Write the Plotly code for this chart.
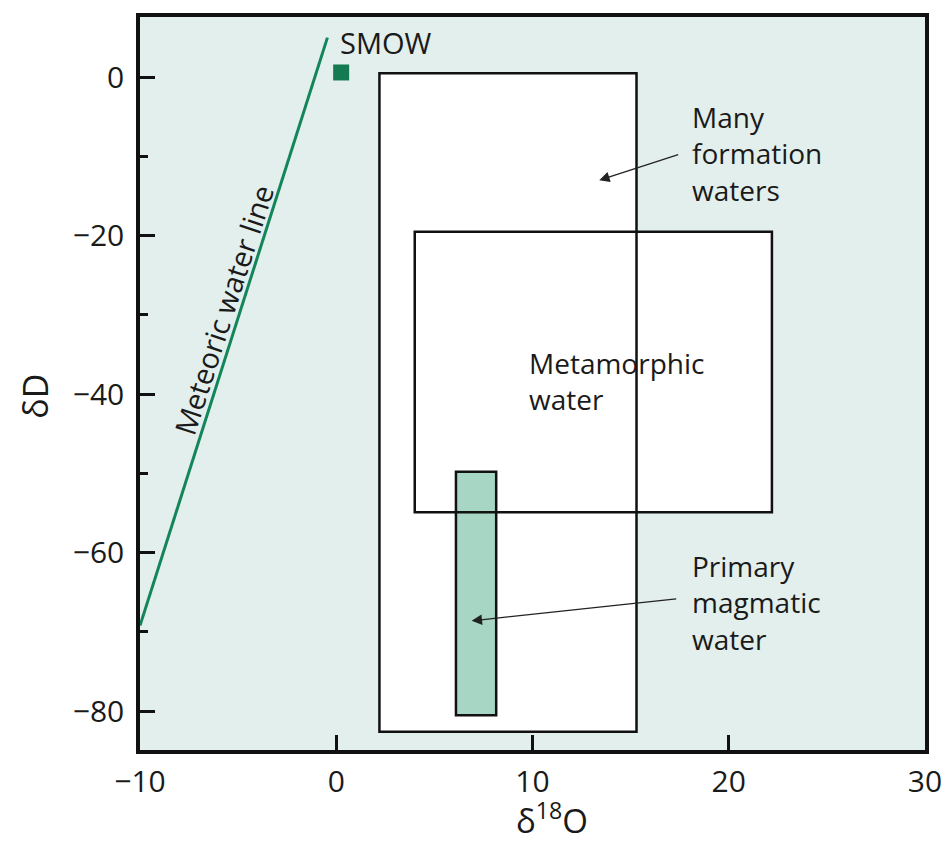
import plotly.graph_objects as go

# meteoric water line end points (d18O, dD)
mwl_x = [-10.0, -0.45]
mwl_y = [-69.2, 5.0]

# standard mean ocean water
smow_x = [0.25]
smow_y = [0.6]

# field boxes: [x0, x1], [y0, y1]
formation_x = [2.2, 15.3]
formation_y = [-82.6, 0.5]
metamorphic_x = [4.0, 22.2]
metamorphic_y = [-54.9, -19.5]
magmatic_x = [6.1, 8.15]
magmatic_y = [-80.5, -49.8]

FONT = "Open Sans, Lato, sans-serif"
BG = "#e3efec"
GREEN = "#13855b"
INK = "#1a1a1a"

fig = go.Figure()

fig.add_trace(go.Scatter(x=mwl_x, y=mwl_y, mode="lines",
                         line=dict(color=GREEN, width=3), hoverinfo="skip"))
fig.add_trace(go.Scatter(x=smow_x, y=smow_y, mode="markers",
                         marker=dict(symbol="square", size=16, color="#137a52"),
                         hoverinfo="skip"))

# white fills first, then outlines so overlapping edges stay visible
for bx, by in [(formation_x, formation_y), (metamorphic_x, metamorphic_y)]:
    fig.add_shape(type="rect", x0=bx[0], x1=bx[1], y0=by[0], y1=by[1],
                  fillcolor="white", line_width=0, layer="below")
fig.add_shape(type="rect", x0=magmatic_x[0], x1=magmatic_x[1],
              y0=magmatic_y[0], y1=magmatic_y[1],
              fillcolor="#a7d6c5", line_width=0, layer="below")
for bx, by in [(formation_x, formation_y), (metamorphic_x, metamorphic_y),
               (magmatic_x, magmatic_y)]:
    fig.add_shape(type="rect", x0=bx[0], x1=bx[1], y0=by[0], y1=by[1],
                  line=dict(color="#111", width=2.5))

txt = dict(family=FONT, size=28, color=INK)
fig.add_annotation(x=0.1, y=4.4, text="SMOW", showarrow=False, xanchor="left",
                   font=dict(family=FONT, size=29, color=INK))
fig.add_annotation(x=18.0, y=-9.6, text="Many<br>formation<br>waters", showarrow=False,
                   xanchor="left", align="left", font=txt)
fig.add_annotation(x=9.7, y=-38.3, text="Metamorphic<br>water", showarrow=False,
                   xanchor="left", align="left", font=txt)
fig.add_annotation(x=18.0, y=-66.3, text="Primary<br>magmatic<br>water", showarrow=False,
                   xanchor="left", align="left", font=txt)
fig.add_annotation(x=-5.75, y=-29.3, text="Meteoric water line", showarrow=False,
                   textangle=-72, font=dict(family=FONT, size=29, color=INK))

# arrows
arr = dict(showarrow=True, text="", axref="x", ayref="y", arrowhead=2,
           arrowsize=1.6, arrowwidth=1.3, arrowcolor="#222")
fig.add_annotation(x=13.4, y=-13.0, ax=17.5, ay=-9.7, **arr)
fig.add_annotation(x=6.9, y=-68.6, ax=17.4, ay=-65.8, **arr)

# axis titles
fig.add_annotation(xref="paper", yref="paper", x=-0.134, y=0.483, text="δD",
                   textangle=-90, showarrow=False, xanchor="center", yanchor="middle",
                   font=dict(family=FONT, size=34, color=INK))
fig.add_annotation(xref="paper", yref="paper", x=0.525, y=-0.094,
                   text="δ<sup>18</sup>O", showarrow=False,
                   xanchor="center", yanchor="middle",
                   font=dict(family=FONT, size=33, color=INK))

fig.update_xaxes(range=[-10, 30], dtick=10, tick0=0, ticks="inside", ticklen=15,
                 tickwidth=2.5, tickcolor="#111", showline=True, linewidth=3.5,
                 linecolor="#111", mirror=True, showgrid=False, zeroline=False,
                 tickfont=dict(family=FONT, size=30, color=INK),
                 ticklabelstandoff=2, ticklabeloverflow="allow")
fig.update_yaxes(range=[-84.9, 7.6], dtick=20, tick0=0, ticks="inside", ticklen=15,
                 tickwidth=2.5, tickcolor="#111", showline=True, linewidth=3.5,
                 linecolor="#111", mirror=True, showgrid=False, zeroline=False,
                 minor=dict(dtick=10, ticks="inside", ticklen=8, tickwidth=2.5,
                            tickcolor="#111", showgrid=False),
                 tickfont=dict(family=FONT, size=30, color=INK),
                 ticklabelstandoff=6)

# page body keeps an 8px margin, so the figure is sized to fit the window
fig.update_layout(width=933, height=829, showlegend=False,
                  plot_bgcolor=BG, paper_bgcolor="white",
                  margin=dict(l=132, r=16, t=9, b=87, autoexpand=False))

fig.write_html("out.html")
